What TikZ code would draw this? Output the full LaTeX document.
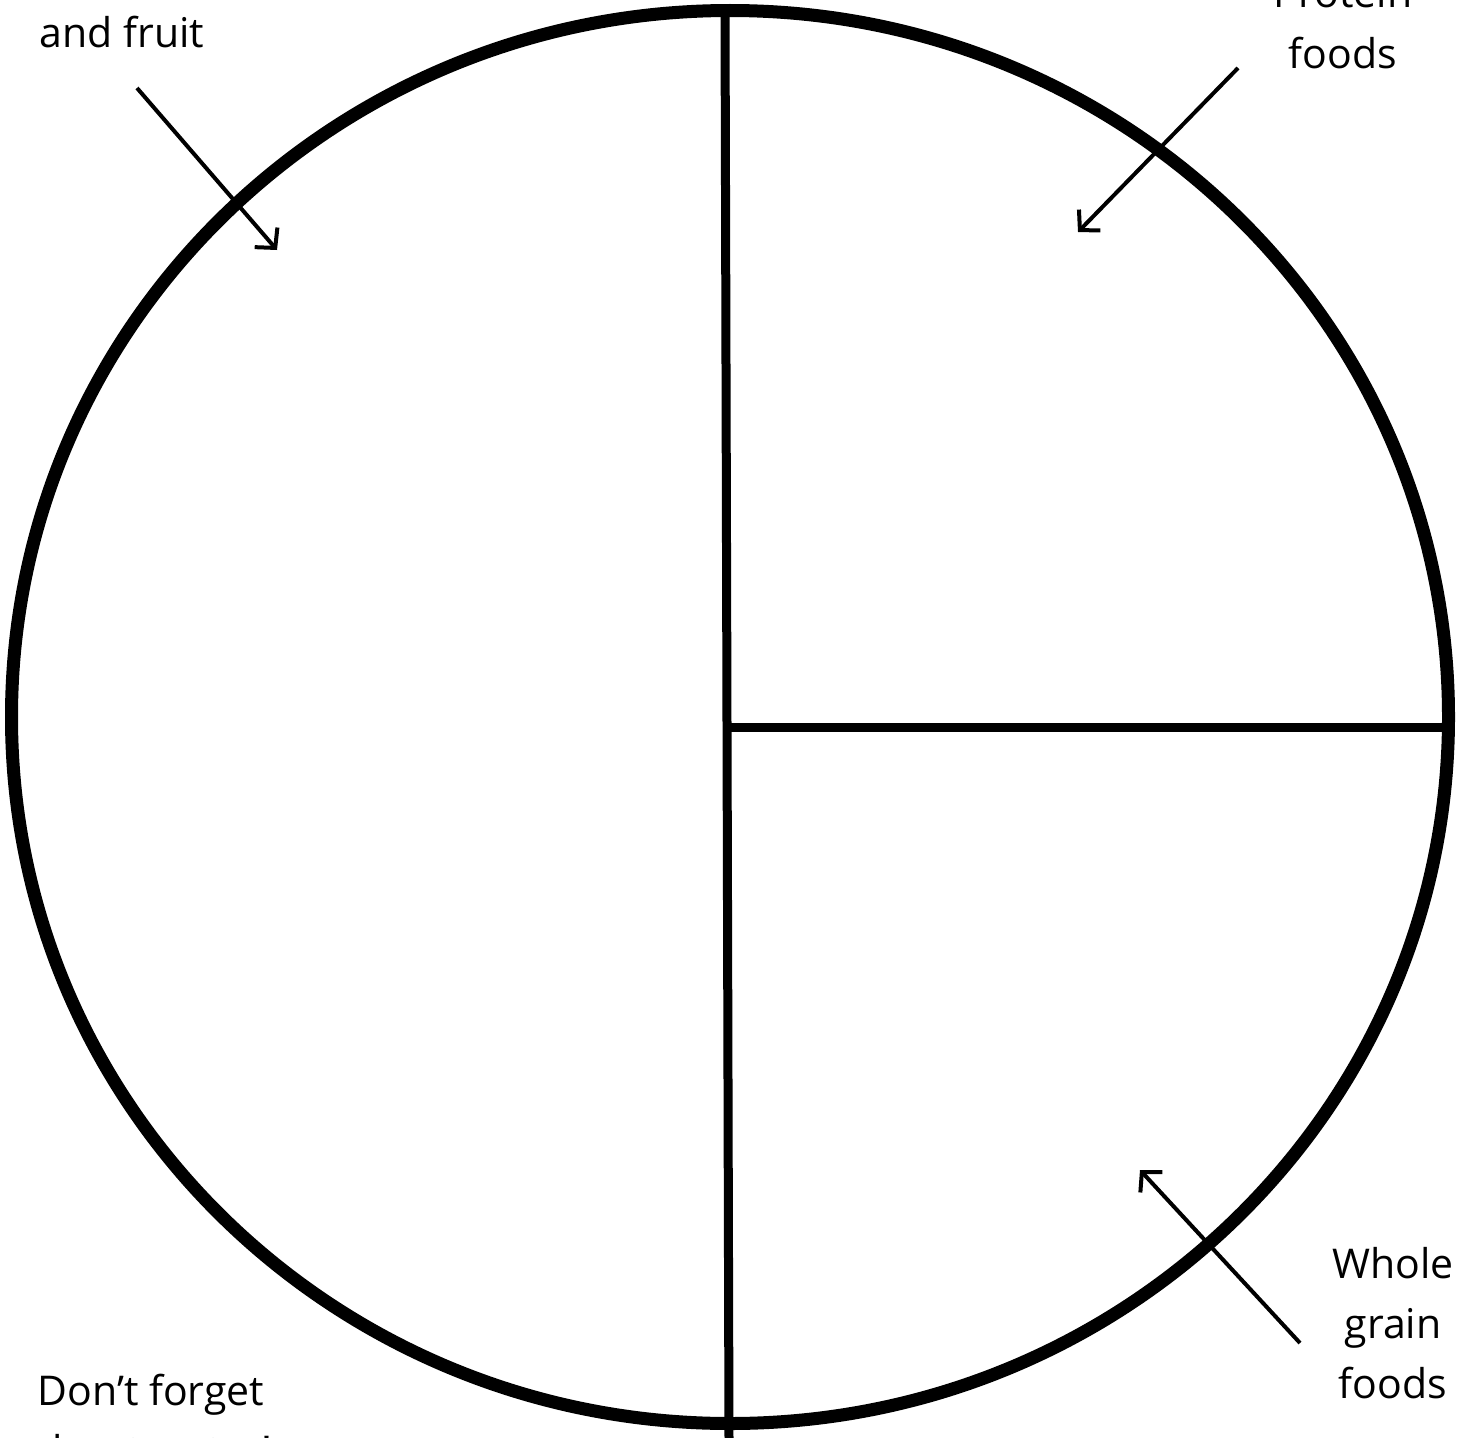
\documentclass[tikz,border=0pt]{standalone}
\usepackage{fontspec}
\setmainfont{Open Sans}
\usetikzlibrary{arrows.meta}
\begin{document}
\begin{tikzpicture}[x=1pt,y=-1pt,
  plate/.style={line width=13pt},
  divider/.style={line width=9pt},
  pointer/.style={line width=4pt,-{Straight Barb[length=14pt,width=30pt]}},
  lbl/.style={anchor=base,inner sep=0pt,font=\fontsize{41}{60}\selectfont}]
\useasboundingbox (0,0) rectangle (1469,1437);
\fill[white] (0,0) rectangle (1469,1437);
% plate
\coordinate (c) at (730,717);
\draw[plate] (c) ellipse [x radius=718.5, y radius=706.5];
% dividers
\coordinate (vtop) at (725,10);
\coordinate (vbot) at (729,1440);
\coordinate (hl) at (727,727);
\coordinate (hr) at (1447,727);
\draw[divider] (vtop) -- (vbot);
\draw[divider] (hl) -- (hr);
% labels
\node[lbl] (veg1) at (122,-12) {Vegetables};
\node[lbl] (veg2) at (122,48) {and fruit};
\node[lbl] (pro1) at (1343,8) {Protein};
\node[lbl] (pro2) at (1343,68) {foods};
\node[lbl] (wg1) at (1393,1278) {Whole};
\node[lbl] (wg2) at (1393,1338) {grain};
\node[lbl] (wg3) at (1393,1398) {foods};
\node[lbl] (df1) at (151,1405) {Don’t forget};
\node[lbl] (df2) at (151,1465) {about water!};
% arrows
\coordinate (a1s) at (137,88);
\coordinate (a1e) at (277,250);
\coordinate (a2s) at (1238,68);
\coordinate (a2e) at (1078,232);
\coordinate (a3s) at (1300,1343);
\coordinate (a3e) at (1140,1170);
\draw[pointer] (a1s) -- (a1e);
\draw[pointer] (a2s) -- (a2e);
\draw[pointer] (a3s) -- (a3e);
\end{tikzpicture}
\end{document}
